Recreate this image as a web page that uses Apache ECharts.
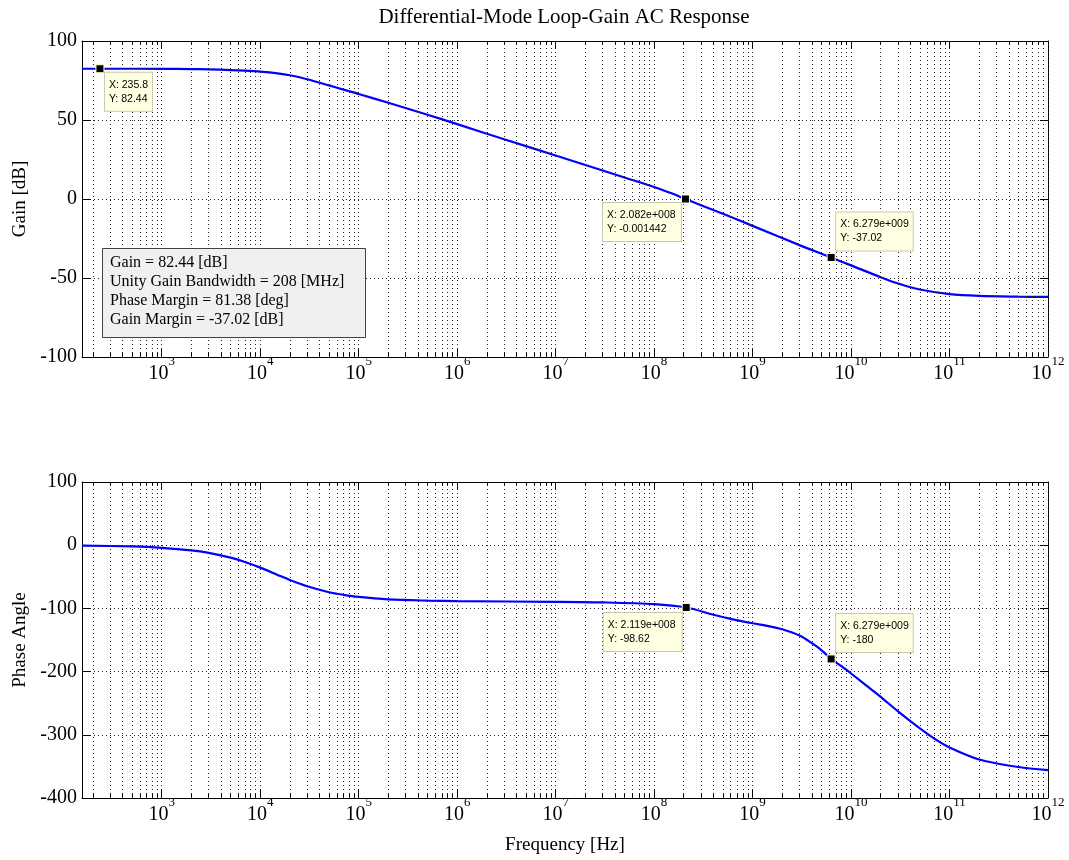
<!DOCTYPE html>
<html>
<head>
<meta charset="utf-8">
<script src="https://cdn.jsdelivr.net/npm/echarts@6/dist/echarts.min.js"></script>
<style>
html,body{margin:0;padding:0;background:#fff;}
#chart{width:1069px;height:860px;}
</style>
</head>
<body>
<div id="chart"></div>
<script>
// ---------- data ----------
const titleText = 'Differential-Mode Loop-Gain AC Response';

const gainFreq = [155, 300, 1e3, 2e3, 3e3, 5e3, 7e3, 1e4, 1.5e4, 2e4, 3e4, 5e4, 7e4, 1e5, 2e5, 5e5, 1e6, 3e6, 1e7, 3e7, 5e7, 1e8, 1.5e8, 2.082e8, 5e8, 1e9, 3e9, 6.279e9, 1e10, 2e10, 3e10, 5e10, 1e11, 2e11, 5e11, 1e12];
const gainDb   = [82.44, 82.44, 82.4, 82.25, 82.05, 81.6, 81.2, 80.6, 79.5, 78.3, 75.8, 71.9, 69.2, 66.5, 60.9, 53.3, 47.4, 37.8, 27.5, 18.0, 13.6, 7.6, 3.6, -0.0014, -9.4, -17.0, -29.2, -37.02, -42.0, -49.5, -53.5, -57.3, -60.2, -61.3, -61.8, -62.0];

const phaseFreq = [155, 500, 1e3, 2e3, 3e3, 5e3, 7e3, 1e4, 1.5e4, 2e4, 3e4, 5e4, 7e4, 1e5, 2e5, 5e5, 1e6, 1e7, 3e7, 1e8, 2.119e8, 4e8, 6e8, 1e9, 1.5e9, 2e9, 3e9, 4e9, 5e9, 6.279e9, 8e9, 1e10, 1.4e10, 2e10, 3e10, 5e10, 7e10, 1e11, 2e11, 5e11, 1e12];
const phaseDeg  = [-0.6, -2.0, -4.1, -8.1, -12.1, -19.7, -26.6, -35.5, -47, -55, -65, -74.4, -78.5, -81.8, -85.6, -87.7, -88.6, -89.6, -90.5, -93.2, -98.62, -110, -116.5, -123.5, -128.5, -133, -143, -155, -166, -180, -191.5, -203, -221, -240, -263, -290, -306, -320, -339, -351, -356];

const gainTips  = [[235.8, 82.44], [2.082e8, -0.001442], [6.279e9, -37.02]];
const gainTipText  = [['235.8', '82.44'], ['2.082e+008', '-0.001442'], ['6.279e+009', '-37.02']];
const phaseTips = [[2.119e8, -98.62], [6.279e9, -180]];
const phaseTipText = [['2.119e+008', '-98.62'], ['6.279e+009', '-180']];

const infoLines = ['Gain = 82.44 [dB]', 'Unity Gain Bandwidth = 208 [MHz]', 'Phase Margin = 81.38 [deg]', 'Gain Margin = -37.02 [dB]'];

const decadeTicks = [1e3, 1e4, 1e5, 1e6, 1e7, 1e8, 1e9, 1e10, 1e11, 1e12];
const gainTicks = { min: -100, max: 100, interval: 50 };
const phaseTicks = { min: -400, max: 100, interval: 100 };
const xMin = 155, xMax = 1e12;

// minor (2..9) tick positions within each decade of the axis range
const minorTicks = [];
for (let e = 2; e < 12; e++) {
  for (let m = 2; m <= 9; m++) {
    const v = m * Math.pow(10, e);
    if (v >= xMin && v <= xMax) minorTicks.push(v);
  }
}

// ---------- styles ----------
const SERIF = '"Liberation Serif", "Times New Roman", serif';
const SANS = '"Liberation Sans", Arial, sans-serif';
const dotted = { type: [1, 3], color: '#222', width: 1 };
const GRID_L = 82, GRID_W = 966, GRID_H = 316;

const supRich = {
  b: { fontFamily: SERIF, fontSize: 20, lineHeight: 20, color: '#000', padding: [14, 0, 0, 0] },
  s: { fontFamily: SERIF, fontSize: 13, lineHeight: 13, color: '#000', padding: [5.5, 0, 15.5, 0] }
};
function expFormatter(v) {
  const e = Math.round(Math.log10(v));
  return '{b|10}{s|' + e + '}';
}

function xAxesFor(gi, name) {
  const base = { type: 'log', logBase: 10, gridIndex: gi, min: xMin, max: xMax, silent: true, splitLine: { show: false } };
  const line = { show: true, onZero: false, lineStyle: { color: '#000', width: 1 } };
  const noLine = { show: false, onZero: false };
  const bottomMajor = Object.assign({}, base, {
    position: 'bottom',
    axisLine: line,
    axisTick: { show: true, inside: true, length: 8, customValues: decadeTicks, lineStyle: { color: '#000' } },
    axisLabel: { show: true, customValues: decadeTicks, formatter: expFormatter, rich: supRich, margin: 0 }
  });
  if (name) {
    Object.assign(bottomMajor, {
      name: name, nameLocation: 'middle', nameGap: 38,
      nameTextStyle: { fontFamily: SERIF, fontSize: 19, color: '#000' }
    });
  }
  return [
    bottomMajor,
    Object.assign({}, base, {
      position: 'bottom', axisLine: noLine,
      axisTick: { show: true, inside: true, length: 4, customValues: minorTicks, lineStyle: { color: '#000' } },
      axisLabel: { show: false }
    }),
    Object.assign({}, base, {
      position: 'top', axisLine: line,
      axisTick: { show: true, inside: true, length: 8, customValues: decadeTicks, lineStyle: { color: '#000' } },
      axisLabel: { show: false }
    }),
    Object.assign({}, base, {
      position: 'top', axisLine: noLine,
      axisTick: { show: true, inside: true, length: 4, customValues: minorTicks, lineStyle: { color: '#000' } },
      axisLabel: { show: false }
    })
  ];
}

function yAxesFor(gi, t, name) {
  return [
    {
      type: 'value', gridIndex: gi, position: 'left', min: t.min, max: t.max, interval: t.interval, silent: true,
      axisLine: { show: true, onZero: false, lineStyle: { color: '#000', width: 1 } },
      axisTick: { show: true, inside: true, length: 8, lineStyle: { color: '#000' } },
      axisLabel: { show: true, fontFamily: SERIF, fontSize: 20, color: '#000', margin: 5 },
      splitLine: { show: true, lineStyle: dotted },
      name: name, nameLocation: 'middle', nameGap: 50,
      nameTextStyle: { fontFamily: SERIF, fontSize: 19, color: '#000' }
    },
    {
      type: 'value', gridIndex: gi, position: 'right', min: t.min, max: t.max, interval: t.interval, silent: true,
      axisLine: { show: true, onZero: false, lineStyle: { color: '#000', width: 1 } },
      axisTick: { show: true, inside: true, length: 8, lineStyle: { color: '#000' } },
      axisLabel: { show: false },
      splitLine: { show: false }
    }
  ];
}

const TIP_W = 70;
function tipData(coords, texts, placements) {
  return coords.map(function (c, i) {
    const p = placements[i];
    const lbl = {
      show: true,
      position: p.pos,
      align: 'left',
      verticalAlign: p.va,
      formatter: 'X: ' + texts[i][0] + '\nY: ' + texts[i][1]
    };
    if (p.w) lbl.width = p.w;
    return { coord: c, label: lbl };
  });
}
const tipLabelStyle = {
  fontFamily: SANS, fontSize: 10.5, lineHeight: 14, color: '#000',
  backgroundColor: '#ffffe1', borderColor: '#c8c8b0', borderWidth: 1, padding: [5, 4, 5, 4]
};

function gridLinesSeries(xi, yi) {
  const vals = decadeTicks.concat(minorTicks);
  return {
    type: 'line', xAxisIndex: xi, yAxisIndex: yi, data: [], z: 1, silent: true,
    markLine: {
      silent: true, symbol: 'none', animation: false,
      label: { show: false },
      lineStyle: dotted,
      emphasis: { disabled: true },
      data: vals.map(function (v) { return { xAxis: v }; })
    }
  };
}

const chart = echarts.init(document.getElementById('chart'), null, { renderer: 'canvas' });
chart.setOption({
  animation: false,
  backgroundColor: '#fff',
  grid: [
    { left: GRID_L, top: 41, width: GRID_W, height: GRID_H },
    { left: GRID_L, top: 482, width: GRID_W, height: GRID_H }
  ],
  xAxis: xAxesFor(0, null).concat(xAxesFor(1, 'Frequency [Hz]')),
  yAxis: yAxesFor(0, gainTicks, 'Gain [dB]').concat(yAxesFor(1, phaseTicks, 'Phase Angle')),
  graphic: [
    {
      type: 'text', x: 564, y: 17, silent: true, z: 100,
      style: { text: titleText, fill: '#000', font: '21px ' + SERIF, align: 'center', verticalAlign: 'middle' }
    },
    {
      type: 'rect', x: 102, y: 248, silent: true, z: 100,
      shape: { x: 0.5, y: 0.5, width: 263, height: 89 },
      style: { fill: '#f0f0f0', stroke: '#404040', lineWidth: 1 }
    },
    {
      type: 'text', x: 110, y: 253, silent: true, z: 101,
      style: { text: infoLines.join('\n'), fill: '#000', font: '16px ' + SERIF, lineHeight: 19 }
    }
  ],
  series: [
    gridLinesSeries(0, 0),
    gridLinesSeries(4, 2),
    {
      type: 'line', xAxisIndex: 0, yAxisIndex: 0, z: 3,
      data: gainFreq.map(function (f, i) { return [f, gainDb[i]]; }),
      showSymbol: false, smooth: 0.3, silent: true,
      lineStyle: { color: '#0000ff', width: 2.2 },
      markPoint: {
        symbol: 'rect', symbolSize: 8, silent: true,
        itemStyle: { color: '#000', borderColor: '#ffffcc', borderWidth: 1 },
        label: tipLabelStyle,
        data: tipData(gainTips, gainTipText, [
          { pos: [9.5, 8.5], va: 'top' },
          { pos: [-(TIP_W + 8), 8.5], va: 'top', w: TIP_W },
          { pos: [9.5, -2.5], va: 'bottom' }
        ])
      }
    },
    {
      type: 'line', xAxisIndex: 4, yAxisIndex: 2, z: 3,
      data: phaseFreq.map(function (f, i) { return [f, phaseDeg[i]]; }),
      showSymbol: false, smooth: 0.3, silent: true,
      lineStyle: { color: '#0000ff', width: 2.2 },
      markPoint: {
        symbol: 'rect', symbolSize: 8, silent: true,
        itemStyle: { color: '#000', borderColor: '#ffffcc', borderWidth: 1 },
        label: tipLabelStyle,
        data: tipData(phaseTips, phaseTipText, [
          { pos: [-(TIP_W + 8), 10], va: 'top', w: TIP_W },
          { pos: [9.5, -2.5], va: 'bottom' }
        ])
      }
    }
  ]
});
</script>
</body>
</html>
